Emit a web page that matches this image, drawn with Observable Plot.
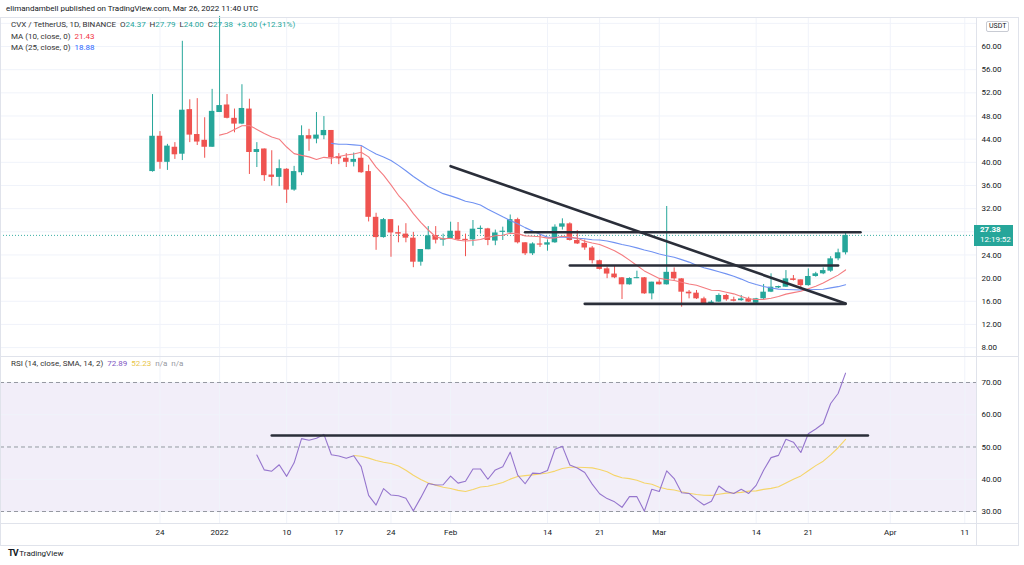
<!DOCTYPE html>
<html><head><meta charset="utf-8">
<script src="https://cdn.jsdelivr.net/npm/d3@7"></script>
<script src="https://cdn.jsdelivr.net/npm/@observablehq/plot@0.6"></script>
<style>
body{margin:0;background:#fff;}
#root{position:relative;width:1024px;height:565px;overflow:hidden;font-family:Roboto,"Liberation Sans",sans-serif;color:#131722;background:#fff;}
.abs{position:absolute;white-space:nowrap;line-height:1;}
.chart{position:absolute;left:0;}
</style></head><body><div id="root"></div>
<script>
// ---------------- DATA ----------------
const startDate = "2021-12-23"; // first daily candle, one candle per day
const open  = [38.4,44.5,40.0,42.6,41.4,49.1,44.8,43.8,42.6,48.6,49.9,47.6,46.6,49.2,41.7,42.3,37.8,37.4,38.8,35.2,
               38.2,44.6,44.0,44.6,45.5,41.0,40.7,40.0,40.7,38.4,30.5,27.0,30.1,27.85,27.6,26.9,22.75,24.9,27.35,26.55,
               26.8,28.1,26.7,26.6,28.4,28.5,26.4,27.9,27.8,30.1,26.1,24.2,25.9,25.7,26.1,28.8,29.37,26.5,26.0,25.2,
               23.0,21.6,20.7,20.05,18.84,19.9,20.05,17.28,19.3,18.84,21.0,19.87,17.57,17.4,16.42,15.56,15.85,17.0,16.25,16.1,
               16.4,15.68,16.42,17.57,18.3,18.43,19.87,19.7,18.7,20.28,20.74,21.2,23.33,24.37];
const high  = [51.7,45.3,43.1,43.4,60.9,50.8,51.0,47.7,52.6,65.2,51.7,49.2,53.4,50.9,43.4,42.3,42.0,40.4,38.9,39.3,
               46.3,45.7,48.6,47.9,45.5,41.5,41.5,41.6,42.7,39.5,31.2,30.3,30.1,29.0,29.4,27.9,24.94,28.9,28.9,27.6,
               29.66,29.6,27.6,29.95,29.0,28.6,28.3,28.8,30.9,30.35,26.1,26.1,27.6,26.6,29.2,30.24,29.55,28.2,26.6,25.46,
               23.1,21.9,22.0,20.1,20.05,21.2,20.1,19.3,19.7,32.37,21.77,19.9,17.86,17.86,16.7,16.1,17.28,17.2,16.7,17.0,
               16.7,16.5,18.9,20.74,18.6,21.3,20.45,19.7,21.6,21.0,21.77,23.7,25.0,27.79];
const low   = [38.3,38.8,38.6,40.5,40.3,43.4,42.9,40.7,42.6,48.6,47.5,45.1,46.5,37.9,39.1,36.7,35.9,35.8,32.9,35.0,
               37.7,41.9,43.2,43.9,39.6,39.6,39.1,39.2,38.1,29.7,24.8,26.9,23.6,26.1,26.1,21.8,22.06,24.9,25.9,25.5,
               26.7,26.5,23.7,25.5,27.6,25.6,25.6,26.5,27.7,25.9,23.9,23.9,25.3,24.65,26.0,28.3,26.4,25.8,24.8,22.46,
               21.4,19.9,19.9,16.3,18.8,19.9,17.2,16.25,18.8,18.8,19.6,14.98,16.42,16.3,15.27,15.5,15.8,16.0,15.9,16.0,
               15.8,15.56,16.3,17.5,18.2,18.4,19.5,17.97,18.6,20.16,20.6,21.0,23.0,24.0];
const close = [44.5,40.0,42.8,41.3,49.0,44.7,43.5,42.6,48.8,49.8,47.6,46.6,49.3,41.7,42.2,37.7,37.4,38.9,35.2,38.4,
               44.6,44.0,44.7,45.5,40.8,40.6,40.0,40.5,38.2,30.5,27.0,30.1,27.8,27.6,26.9,22.75,24.94,27.3,26.55,26.8,
               28.1,26.6,26.5,28.45,28.6,26.5,27.8,28.1,30.1,26.1,24.2,25.9,25.7,26.1,28.8,29.37,26.5,25.9,25.2,23.0,
               21.5,20.7,20.05,18.84,19.93,20.05,17.28,19.3,18.84,21.0,19.87,17.57,17.28,16.42,15.56,15.85,17.0,16.25,16.0,16.4,
               15.85,16.42,17.57,18.43,18.55,19.87,19.6,18.7,20.28,20.74,21.3,23.33,24.37,27.38];
const rsiStartIndex = 14; // RSI(14) begins on the 15th candle
const rsi = [47.5,42.9,42.5,44.5,40.9,45.1,52.6,52.1,52.7,53.9,47.6,47.2,46.5,47.3,43.9,35.0,32.0,37.1,35.1,34.9,
             34.1,30.2,34.3,38.7,38.2,38.3,41.0,38.8,39.4,43.2,43.2,40.0,42.9,43.9,48.4,41.3,38.6,41.9,41.8,42.7,
             49.3,50.2,44.4,43.5,42.1,38.5,35.5,34.0,33.0,31.3,34.6,34.6,30.1,36.9,36.2,42.6,40.2,35.8,35.6,33.7,
             32.0,33.2,37.9,36.2,35.6,36.9,35.6,38.1,42.8,46.7,47.4,52.4,51.5,48.3,54.1,55.6,57.3,63.5,66.6,72.89];
const maFastLength = 10, maSlowLength = 25, rsiSignalLength = 14;

const priceGridTicks = [8,12,16,20,24,28,32,36,40,44,48,52,56,60,64];
const priceLabelTicks = [8,12,16,20,24,32,36,40,44,48,52,56,60]; // 28 and 64 sit under the badges
const rsiTicks = [30,40,50,60,70];
const rsiBands = [30,50,70];
const dateTicks = ["2021-12-24","2022-01-01","2022-01-10","2022-01-17","2022-01-24","2022-02-01","2022-02-14",
                   "2022-02-21","2022-03-01","2022-03-14","2022-03-21","2022-04-01","2022-04-11"];
const dateTickLabels = ["24","2022","10","17","24","Feb","14","21","Mar","14","21","Apr","11"];

// user-drawn lines (date, price)
const diagDates = ["2022-02-01","2022-03-26"], diagPrices = [39.33, 15.6];
const resistDates = ["2022-02-11","2022-03-28"], resistPrice = 27.93;
const midDates = ["2022-02-17","2022-03-25"], midPrice = 22.18;
const supportDates = ["2022-02-19","2022-03-26"], supportPrice = 15.55;
const rsiLineDates = ["2022-01-08","2022-03-29"], rsiLineValue = 53.57;

// ---------------- BUILD ----------------
const TEAL = "#26a69a", RED = "#ef5350", INK = "#131722";
const DAY = 864e5;
const t0 = new Date(startDate + "T00:00:00Z");
const candles = close.map((c, i) => ({
  date: new Date(+t0 + i * DAY), open: open[i], high: high[i], low: low[i], close: c,
  up: c >= open[i]
}));
function sma(values, k) {
  return values.map((v, i) => i < k - 1 ? null : d3.mean(values.slice(i - k + 1, i + 1)));
}
const maFast = sma(close, maFastLength), maSlow = sma(close, maSlowLength);
const maFastData = candles.map((d, i) => ({date: d.date, v: maFast[i]})).filter(d => d.v != null);
const maSlowData = candles.map((d, i) => ({date: d.date, v: maSlow[i]})).filter(d => d.v != null);
const rsiSig = sma(rsi, rsiSignalLength);
const rsiData = rsi.map((v, j) => ({date: candles[j + rsiStartIndex].date, v, s: rsiSig[j]}));
const rsiSigData = rsiData.filter(d => d.s != null);

const parse = s => new Date(s + "T00:00:00Z");
const W = 1024, AXISW = 48, FRAME_R = W - AXISW;
const xDomain = [new Date(+t0 - 20.4 * DAY), new Date(+t0 + 110.57 * DAY)];
const dateTickDates = dateTicks.map(parse);
const GRID = "#f0f3fa";

const root = document.getElementById("root");
function addDiv(html, style) {
  const d = document.createElement("div"); d.className = "abs"; d.innerHTML = html;
  Object.assign(d.style, style); root.appendChild(d); return d;
}

// ---- main price panel ----
const mainTop = 18, mainH = 338;
const yDomain = [6.46, 64.84];
const halfBody = 0.37 * DAY;
const mainChart = Plot.plot({
  width: W, height: mainH, marginLeft: 0, marginRight: AXISW, marginTop: 0, marginBottom: 0,
  style: {background: "transparent", overflow: "visible", fontFamily: "Roboto, sans-serif"},
  x: {type: "utc", domain: xDomain, axis: null},
  y: {domain: yDomain, axis: null},
  marks: [
    Plot.ruleY(priceGridTicks, {stroke: GRID}),
    Plot.ruleX(dateTickDates, {stroke: GRID}),
    Plot.ruleY([close[close.length - 1]], {stroke: TEAL, strokeDasharray: "1,2", strokeOpacity: 0.9}),
    Plot.ruleX(candles, {x: "date", y1: "low", y2: "high", stroke: d => d.up ? TEAL : RED, strokeWidth: 1}),
    Plot.rect(candles, {
      x1: d => new Date(+d.date - halfBody), x2: d => new Date(+d.date + halfBody),
      y1: d => Math.min(d.open, d.close), y2: d => Math.max(Math.max(d.open, d.close), Math.min(d.open, d.close) + 0.18),
      fill: d => d.up ? TEAL : RED
    }),
    Plot.line(maSlowData, {x: "date", y: "v", stroke: "#7092f2", strokeWidth: 1.1}),
    Plot.line(maFastData, {x: "date", y: "v", stroke: "#f47c80", strokeWidth: 1.1}),
    Plot.line(diagDates.map((d, i) => ({d: parse(d), p: diagPrices[i]})), {x: "d", y: "p", stroke: "#2a2e39", strokeWidth: 2.6}),
    Plot.line(resistDates.map(d => ({d: parse(d), p: resistPrice})), {x: "d", y: "p", stroke: "#2a2e39", strokeWidth: 2.6}),
    Plot.line(midDates.map(d => ({d: parse(d), p: midPrice})), {x: "d", y: "p", stroke: "#2a2e39", strokeWidth: 2.6}),
    Plot.line(supportDates.map(d => ({d: parse(d), p: supportPrice})), {x: "d", y: "p", stroke: "#2a2e39", strokeWidth: 2.6}),
    Plot.text(priceLabelTicks, {y: d => d, text: d => d.toFixed(2), frameAnchor: "right", dx: 5, textAnchor: "start",
      fontSize: 8, fill: INK})
  ]
});
mainChart.style.top = mainTop + "px"; mainChart.classList.add("chart");
root.appendChild(mainChart);

// ---- RSI panel ----
const rsiTop = 356, rsiH = 189, rsiMB = 22;
const rsiDomain = [26.28, 78.06];
const rsiChart = Plot.plot({
  width: W, height: rsiH, marginLeft: 0, marginRight: AXISW, marginTop: 0, marginBottom: rsiMB,
  style: {background: "transparent", overflow: "visible", fontFamily: "Roboto, sans-serif"},
  x: {type: "utc", domain: xDomain, axis: null},
  y: {domain: rsiDomain, axis: null},
  marks: [
    Plot.rect([0], {x1: () => xDomain[0], x2: () => xDomain[1], y1: () => rsiBands[0], y2: () => rsiBands[2],
      fill: "#7e57c2", fillOpacity: 0.1}),
    Plot.ruleY(rsiTicks, {stroke: GRID}),
    Plot.ruleX(dateTickDates, {stroke: GRID}),
    Plot.ruleY(rsiBands, {stroke: "#9598a1", strokeDasharray: "4,3"}),
    Plot.line(rsiSigData, {x: "date", y: "s", stroke: "#f5d56a", strokeWidth: 1.1}),
    Plot.line(rsiData, {x: "date", y: "v", stroke: "#9575cd", strokeWidth: 1.1}),
    Plot.line(rsiLineDates.map(d => ({d: parse(d), p: rsiLineValue})), {x: "d", y: "p", stroke: "#2a2e39", strokeWidth: 2.6}),
    Plot.text(rsiTicks, {y: d => d, text: d => d.toFixed(2), frameAnchor: "right", dx: 5, textAnchor: "start",
      fontSize: 8, fill: INK}),
    Plot.text(dateTickDates, {x: d => d, text: (d, i) => dateTickLabels[i], frameAnchor: "bottom", dy: 11,
      fontSize: 8, fill: INK})
  ]
});
rsiChart.style.top = rsiTop + "px"; rsiChart.classList.add("chart");
root.appendChild(rsiChart);

// ---- frame lines ----
const line = (l, t, w, h) => addDiv("", {left: l + "px", top: t + "px", width: w + "px", height: h + "px", background: "#e0e3eb"});
line(0, 17, 1018, 1);          // top border
line(0, rsiTop, 1018, 1);      // panel separator
line(0, 523, 1018, 1);         // above time axis
line(0, 545, 1018, 1);         // bottom border
line(FRAME_R, 17, 1, 529);     // price axis separator
line(1018, 17, 1, 529);        // right border
line(0, 17, 1, 529);           // left border

// ---- price badge & currency ----
const yMain = d3.scaleLinear().domain(yDomain).range([mainTop + mainH, mainTop]);
const lastClose = close[close.length - 1];
const by = yMain(lastClose);
addDiv(`<div style="font-weight:bold">${lastClose.toFixed(2)}</div><div style="margin-top:2px">12:19:52</div>`,
  {left: (FRAME_R - 2) + "px", top: (by - 10) + "px", width: "39px", height: "21px", background: TEAL, color: "#fff",
   fontSize: "8px", padding: "1px 0 0 6px", boxSizing: "border-box"});
addDiv("USDT", {left: "986px", top: "21px", fontSize: "7px", padding: "1px 2px", border: "1px solid #c8cbd3",
  borderRadius: "2px", background: "#fff", color: INK});

// ---- texts ----
addDiv("elimandambell published on TradingView.com, Mar 26, 2022 11:40 UTC", {left: "6px", top: "5px", fontSize: "8px", color: INK});
const tv = v => `<span style="color:${TEAL}">${v}</span>`;
addDiv(`CVX / TetherUS, 1D, BINANCE&nbsp; O${tv("24.37")}&nbsp; H${tv("27.79")}&nbsp; L${tv("24.00")}&nbsp; C${tv("27.38")}&nbsp; ${tv("+3.00 (+12.31%)")}`,
  {left: "11px", top: "21px", fontSize: "8px", color: "#333"});
addDiv(`MA (10, close, 0)&nbsp; <span style="color:#f23645">21.43</span>`, {left: "11px", top: "33px", fontSize: "8px", color: "#333"});
addDiv(`MA (25, close, 0)&nbsp; <span style="color:#2962ff">18.88</span>`, {left: "11px", top: "44px", fontSize: "8px", color: "#333"});
addDiv(`RSI (14, close, SMA, 14, 2)&nbsp; <span style="color:#7e57c2">72.89</span>&nbsp; <span style="color:#e8c547">52.23</span>&nbsp; <span style="color:#9598a1">n/a&nbsp; n/a</span>`,
  {left: "11px", top: "360px", fontSize: "8px", color: "#333"});
addDiv(`<b style="font-size:9px;letter-spacing:-1px">TV</b> TradingView`, {left: "8px", top: "549px", fontSize: "8px", color: INK});
</script></body></html>
